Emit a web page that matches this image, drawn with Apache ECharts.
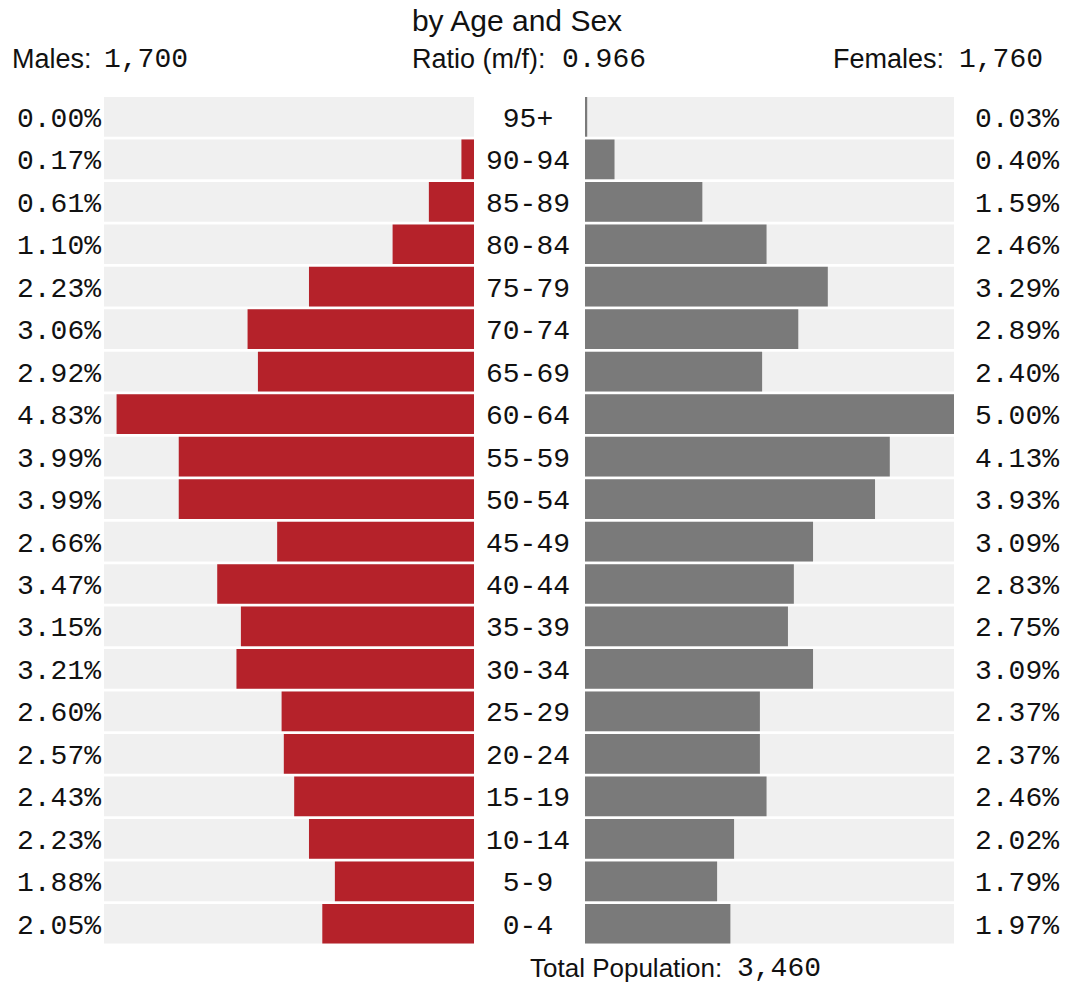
<!DOCTYPE html>
<html>
<head>
<meta charset="utf-8">
<script src="https://cdn.jsdelivr.net/npm/echarts@6/dist/echarts.min.js"></script>
<style>
html,body{margin:0;padding:0;background:#fff;}
#chart{width:1065px;height:982px;}
</style>
</head>
<body>
<div id="chart"></div>
<script>
// Age groups from bottom to top
const ageGroups = ['0-4','5-9','10-14','15-19','20-24','25-29','30-34','35-39','40-44','45-49','50-54','55-59','60-64','65-69','70-74','75-79','80-84','85-89','90-94','95+'];
const malePct   = [2.05,1.88,2.23,2.43,2.57,2.60,3.21,3.15,3.47,2.66,3.99,3.99,4.83,2.92,3.06,2.23,1.10,0.61,0.17,0.00];
const femalePct = [1.97,1.79,2.02,2.46,2.37,2.37,3.09,2.75,2.83,3.09,3.93,4.13,5.00,2.40,2.89,3.29,2.46,1.59,0.40,0.03];
const maleTotal = 1700;
const femaleTotal = 1760;
const ratioMF = 0.966;
const totalPop = 3460;
const axisMax = 5;

const SANS = '"Liberation Sans", Arial, sans-serif';
const MONO = '"Liberation Mono", monospace';
const fmt = n => n.toLocaleString('en-US');

const chart = echarts.init(document.getElementById('chart'), null, {renderer:'svg', width:1065, height:982});

const gridTop = 95.6, gridH = 849.4;
const monoRich = {m: {fontFamily: MONO, fontSize: 28, color: '#111', padding: [5, 0, 0, 0]}};

function txt(x, y, s, fam, size, align) {
  return {type: 'text', x: x, y: y, style: {text: s, fontFamily: fam, fontSize: size, fill: '#111', align: align || 'left', verticalAlign: 'middle'}};
}

const option = {
  animation: false,
  backgroundColor: '#fff',
  grid: [
    {left: 104, width: 370, top: gridTop, height: gridH},
    {left: 585, width: 369, top: gridTop, height: gridH}
  ],
  xAxis: [
    {gridIndex: 0, type: 'value', min: 0, max: axisMax, inverse: true, show: false},
    {gridIndex: 1, type: 'value', min: 0, max: axisMax, show: false}
  ],
  yAxis: [
    {gridIndex: 0, type: 'category', data: ageGroups, position: 'left',
     axisLine: {show: false}, axisTick: {show: false},
     axisLabel: {margin: 3, align: 'right', rich: monoRich,
       formatter: (v, i) => '{m|' + malePct[i].toFixed(2) + '%}'}},
    {gridIndex: 1, type: 'category', data: ageGroups, position: 'left',
     axisLine: {show: false}, axisTick: {show: false},
     axisLabel: {margin: 57, align: 'center', rich: monoRich,
       formatter: v => '{m|' + v + '}'}},
    {gridIndex: 1, type: 'category', data: ageGroups, position: 'right',
     axisLine: {show: false}, axisTick: {show: false},
     axisLabel: {margin: 21, align: 'left', rich: monoRich,
       formatter: (v, i) => '{m|' + femalePct[i].toFixed(2) + '%}'}}
  ],
  series: [
    {type: 'bar', name: 'Males', xAxisIndex: 0, yAxisIndex: 0, data: malePct,
     barCategoryGap: '6.5%', barMinHeight: 1,
     itemStyle: {color: '#b5222a'},
     showBackground: true, backgroundStyle: {color: '#f0f0f0'}},
    {type: 'bar', name: 'Females', xAxisIndex: 1, yAxisIndex: 1, data: femalePct,
     barCategoryGap: '6.5%', barMinHeight: 1,
     itemStyle: {color: '#7a7a7a'},
     showBackground: true, backgroundStyle: {color: '#f0f0f0'}}
  ],
  graphic: [
    txt(517, 20, 'by Age and Sex', SANS, 30, 'center'),
    txt(12, 59, 'Males:', SANS, 27),
    txt(104, 59, fmt(maleTotal), MONO, 28),
    txt(412, 59, 'Ratio (m/f):', SANS, 27),
    txt(562, 59, ratioMF.toFixed(3), MONO, 28),
    txt(833, 59, 'Females:', SANS, 27),
    txt(959, 59, fmt(femaleTotal), MONO, 28),
    txt(530, 968, 'Total Population:', SANS, 26),
    txt(737, 968, fmt(totalPop), MONO, 28)
  ]
};
chart.setOption(option);
</script>
</body>
</html>
